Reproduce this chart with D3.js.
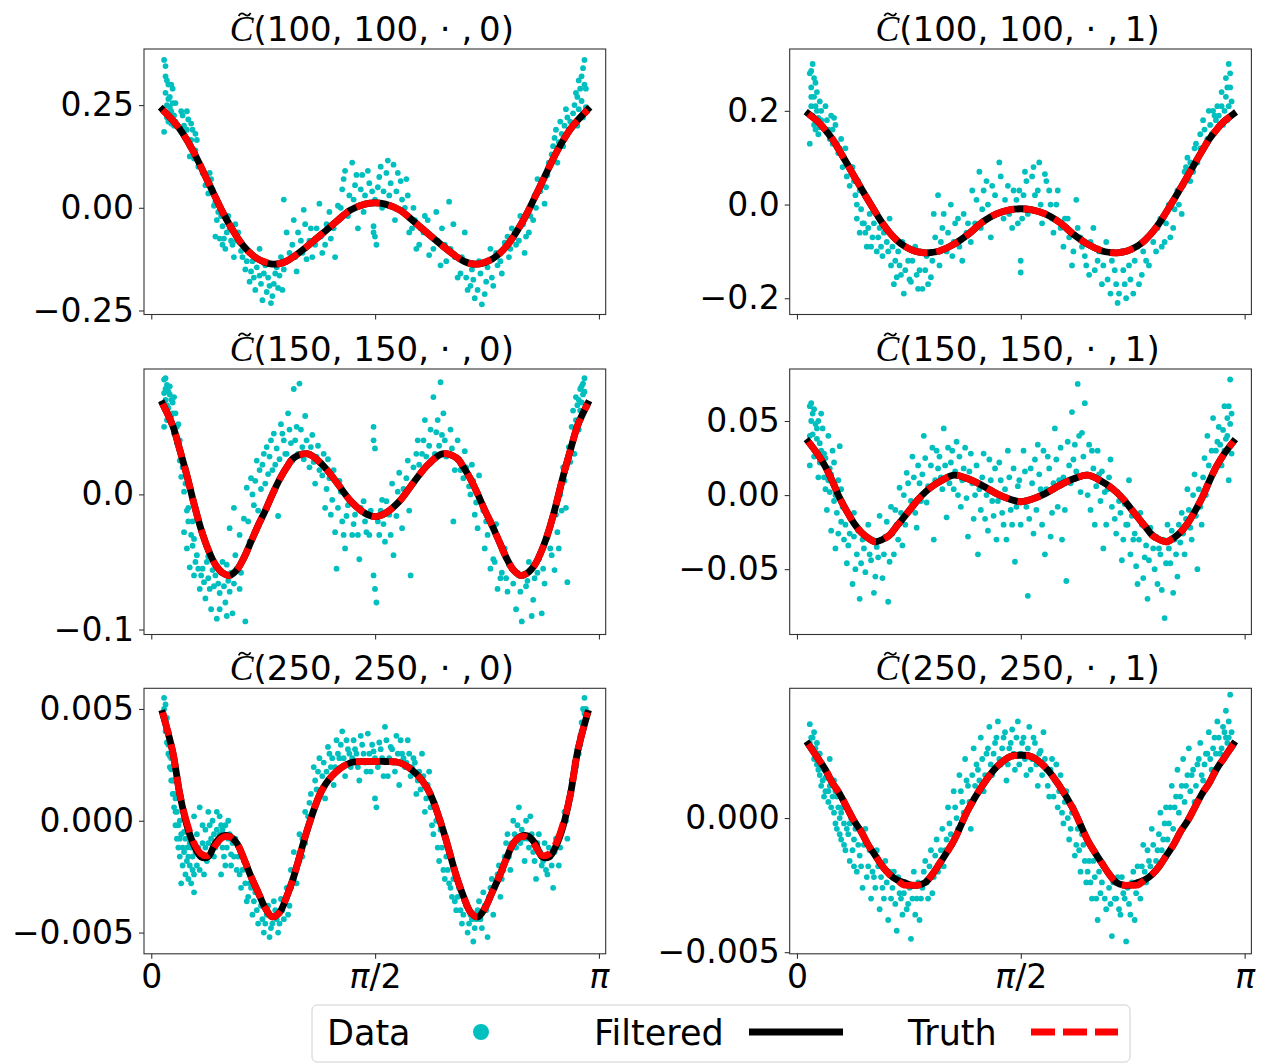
<!DOCTYPE html>
<html>
<head>
<meta charset="utf-8">
<script src="https://cdn.jsdelivr.net/npm/d3@7"></script>
<style>
  body { margin: 0; background: #fff; }
  svg { display: block; font-family: "DejaVu Sans", sans-serif; }
</style>
</head>
<body>
<div id="chart"></div>
<script>
/**
 * DATA
 * */
// x positions where the filtered / true curves are sampled
const xGrid = [0.08, 0.15, 0.2, 0.25, 0.3, 0.35, 0.4, 0.45, 0.5, 0.55, 0.6, 0.65, 0.7, 0.75, 0.8, 0.85, 0.9, 0.95, 1.0, 1.1, 1.2, 1.3, 1.4, 1.5, 1.571,
  1.642, 1.742, 1.842, 1.942, 2.042, 2.142, 2.192, 2.242, 2.292, 2.342, 2.392, 2.442, 2.492, 2.542, 2.592, 2.642, 2.692, 2.742, 2.792, 2.842, 2.892, 2.942, 2.992, 3.062];

const truth100_0 = [0.238, 0.213, 0.192, 0.165, 0.134, 0.099, 0.062, 0.026, -0.010, -0.042, -0.070, -0.094, -0.112, -0.125, -0.132, -0.137, -0.136, -0.130, -0.119, -0.092, -0.063, -0.033, -0.005, 0.009, 0.012,
  0.009, -0.005, -0.033, -0.063, -0.092, -0.119, -0.130, -0.136, -0.137, -0.132, -0.125, -0.112, -0.094, -0.070, -0.042, -0.010, 0.026, 0.062, 0.099, 0.134, 0.165, 0.192, 0.213, 0.238];
const filtered100_0 = [0.239, 0.213, 0.192, 0.165, 0.134, 0.099, 0.062, 0.026, -0.010, -0.042, -0.070, -0.094, -0.112, -0.125, -0.133, -0.137, -0.136, -0.130, -0.119, -0.092, -0.063, -0.033, -0.005, 0.009, 0.012,
  0.009, -0.005, -0.033, -0.063, -0.092, -0.119, -0.130, -0.136, -0.137, -0.133, -0.125, -0.112, -0.094, -0.070, -0.042, -0.010, 0.026, 0.062, 0.099, 0.134, 0.165, 0.192, 0.213, 0.239];

const truth100_1 = [0.193, 0.176, 0.159, 0.139, 0.114, 0.088, 0.061, 0.035, 0.009, -0.016, -0.040, -0.060, -0.076, -0.088, -0.096, -0.101, -0.103, -0.102, -0.099, -0.085, -0.064, -0.038, -0.020, -0.011, -0.009,
  -0.011, -0.020, -0.038, -0.064, -0.085, -0.099, -0.102, -0.103, -0.101, -0.096, -0.088, -0.076, -0.060, -0.040, -0.016, 0.009, 0.035, 0.061, 0.088, 0.114, 0.139, 0.159, 0.176, 0.193];
const filtered100_1 = [0.194, 0.176, 0.159, 0.139, 0.114, 0.088, 0.061, 0.035, 0.009, -0.016, -0.040, -0.060, -0.076, -0.088, -0.096, -0.101, -0.103, -0.102, -0.099, -0.085, -0.064, -0.038, -0.020, -0.011, -0.009,
  -0.011, -0.020, -0.038, -0.064, -0.085, -0.099, -0.102, -0.103, -0.101, -0.096, -0.088, -0.076, -0.060, -0.040, -0.016, 0.009, 0.035, 0.061, 0.088, 0.114, 0.139, 0.159, 0.176, 0.193];

const truth150_0 = [0.067, 0.051, 0.033, 0.014, -0.007, -0.026, -0.041, -0.052, -0.058, -0.060, -0.056, -0.047, -0.035, -0.023, -0.012, 0.000, 0.011, 0.020, 0.027, 0.030, 0.022, 0.009, -0.005, -0.014, -0.0165,
  -0.014, -0.005, 0.009, 0.022, 0.030, 0.027, 0.020, 0.011, 0.000, -0.012, -0.023, -0.035, -0.047, -0.056, -0.060, -0.058, -0.052, -0.041, -0.026, -0.007, 0.014, 0.033, 0.051, 0.067];
const filtered150_0 = [0.067, 0.051, 0.033, 0.014, -0.007, -0.026, -0.041, -0.052, -0.058, -0.060, -0.056, -0.047, -0.035, -0.023, -0.012, 0.000, 0.011, 0.020, 0.027, 0.030, 0.022, 0.009, -0.005, -0.014, -0.0165,
  -0.014, -0.005, 0.009, 0.022, 0.030, 0.027, 0.020, 0.011, 0.000, -0.012, -0.023, -0.035, -0.047, -0.056, -0.060, -0.058, -0.052, -0.041, -0.026, -0.007, 0.014, 0.033, 0.051, 0.067];

const truth150_1 = [0.036, 0.027, 0.019, 0.009, -0.002, -0.011, -0.019, -0.025, -0.029, -0.0315, -0.030, -0.027, -0.021, -0.015, -0.009, -0.003, 0.002, 0.006, 0.009, 0.0135, 0.011, 0.0065, 0.001, -0.003, -0.0045,
  -0.003, 0.001, 0.0065, 0.011, 0.0135, 0.009, 0.006, 0.002, -0.003, -0.009, -0.015, -0.021, -0.027, -0.030, -0.0315, -0.029, -0.025, -0.019, -0.011, -0.002, 0.009, 0.019, 0.027, 0.036];
const filtered150_1 = [0.036, 0.027, 0.019, 0.009, -0.002, -0.011, -0.019, -0.025, -0.029, -0.0315, -0.030, -0.027, -0.021, -0.015, -0.009, -0.003, 0.002, 0.006, 0.009, 0.0135, 0.011, 0.0065, 0.001, -0.003, -0.0045,
  -0.003, 0.001, 0.0065, 0.011, 0.0135, 0.009, 0.006, 0.002, -0.003, -0.009, -0.015, -0.021, -0.027, -0.030, -0.0315, -0.029, -0.025, -0.019, -0.011, -0.002, 0.009, 0.019, 0.027, 0.036];

const truth250_0 = [0.00485, 0.0031, 0.0012, -0.0001, -0.0010, -0.00148, -0.00155, -0.0011, -0.00075, -0.00072, -0.0010, -0.0017, -0.0025, -0.0032, -0.0039, -0.0043, -0.0041, -0.0034, -0.0025, -0.0003, 0.0014, 0.0022, 0.0026, 0.00265, 0.00265,
  0.00265, 0.0026, 0.0022, 0.0014, -0.0003, -0.0025, -0.0034, -0.0041, -0.0043, -0.0039, -0.0032, -0.0025, -0.0017, -0.0010, -0.00072, -0.00075, -0.0011, -0.00155, -0.00148, -0.0010, -0.0001, 0.0012, 0.0031, 0.00485];
const filtered250_0 = [0.00480, 0.0031, 0.0012, -0.0002, -0.0011, -0.00162, -0.00160, -0.0010, -0.00068, -0.00070, -0.0010, -0.0017, -0.0025, -0.0032, -0.0039, -0.0043, -0.0041, -0.0034, -0.0025, -0.0003, 0.0014, 0.0022, 0.0026, 0.00265, 0.00265,
  0.00265, 0.0026, 0.0022, 0.0014, -0.0003, -0.0025, -0.0034, -0.0041, -0.0043, -0.0039, -0.0032, -0.0025, -0.0017, -0.0010, -0.00070, -0.00068, -0.0010, -0.00160, -0.00162, -0.0011, -0.0002, 0.0012, 0.0031, 0.00480];

const truth250_1 = [0.00275, 0.0022, 0.0018, 0.0013, 0.0009, 0.0004, -0.0001, -0.0005, -0.0010, -0.0014, -0.0018, -0.0021, -0.0023, -0.0025, -0.0025, -0.0025, -0.0024, -0.0021, -0.0017, -0.00085, 0.0003, 0.0012, 0.0019, 0.0023, 0.00232,
  0.0023, 0.0019, 0.0012, 0.0003, -0.00085, -0.0017, -0.0021, -0.0024, -0.0025, -0.0025, -0.0025, -0.0023, -0.0021, -0.0018, -0.0014, -0.0010, -0.0005, -0.0001, 0.0004, 0.0009, 0.0013, 0.0018, 0.0022, 0.00275];
const filtered250_1 = [0.00275, 0.0022, 0.0018, 0.0013, 0.0009, 0.0004, -0.0001, -0.0005, -0.0010, -0.0014, -0.0018, -0.0021, -0.0023, -0.0024, -0.0025, -0.0025, -0.0024, -0.0021, -0.0017, -0.00085, 0.0003, 0.0012, 0.0019, 0.0023, 0.00234,
  0.0023, 0.0019, 0.0012, 0.0003, -0.00085, -0.0017, -0.0021, -0.0024, -0.0025, -0.0025, -0.0024, -0.0023, -0.0021, -0.0018, -0.0014, -0.0010, -0.0005, -0.0001, 0.0004, 0.0009, 0.0013, 0.0018, 0.0022, 0.00275];

// noisy samples, [x, value]
const data100_0 = [[0.09,0.36],[0.10,0.32],[0.10,0.28],[0.11,0.25],[0.12,0.30],[0.12,0.21],[0.13,0.27],[0.14,0.235],[0.15,0.29],[0.16,0.20],[0.09,0.185],[0.17,0.255],
  [0.21,0.235],[0.23,0.20],[0.24,0.17],[0.26,0.215],[0.27,0.15],[0.29,0.19],[0.30,0.12],[0.32,0.165],[0.33,0.10],
  [0.36,0.085],[0.38,0.055],[0.40,0.035],[0.42,0.07],[0.44,0.005],
  [0.46,-0.03],[0.48,-0.075],[0.50,-0.045],[0.52,-0.10],[0.54,-0.02],[0.56,-0.08],[0.58,-0.12],[0.61,-0.06],[0.63,-0.105],
  [0.66,-0.15],[0.69,-0.18],[0.71,-0.13],[0.73,-0.20],[0.76,-0.165],[0.78,-0.225],[0.80,-0.14],[0.83,-0.19],[0.85,-0.215],[0.87,-0.16],[0.89,-0.195],[0.91,-0.12],[0.76,-0.10],[0.84,-0.232],
  [0.93,0.02],[0.95,-0.06],[0.97,-0.11],[1.00,-0.03],[1.02,-0.155],[1.05,-0.08],[1.07,-0.005],[1.09,-0.125],[1.12,-0.05],
  [1.15,-0.09],[1.18,0.01],[1.20,-0.11],[1.23,-0.04],[1.26,-0.075],[1.29,-0.12],[1.31,0.005],
  [1.34,0.045],[1.36,0.09],[1.38,-0.02],[1.41,0.11],[1.43,0.055],[1.45,-0.05],[1.48,0.08],[1.50,0.03],[1.53,0.06],
  [1.56,-0.045],[1.57,-0.07],[1.58,-0.09],[1.57,0.02],
  [1.61,0.10],[1.63,0.04],[1.66,0.115],[1.68,0.06],[1.71,-0.03],[1.73,0.085],[1.76,0.02],[1.79,0.07],[1.81,-0.06],
  [1.84,0.0],[1.86,-0.10],[1.89,-0.05],[1.92,-0.02],[1.95,-0.115],[1.97,-0.07],
  [2.00,-0.01],[2.03,-0.14],[2.06,-0.09],[2.09,0.015],[2.12,-0.04],[2.15,-0.17],[2.18,-0.12],[2.20,-0.06],
  [2.22,-0.20],[2.25,-0.15],[2.27,-0.22],[2.30,-0.13],[2.32,-0.235],[2.35,-0.18],[2.38,-0.10],[2.40,-0.19],[2.43,-0.14],[2.46,-0.16],[2.48,-0.085],
  [2.51,-0.12],[2.53,-0.05],[2.56,-0.09],[2.59,-0.02],[2.62,-0.11],[2.65,-0.06],[2.68,-0.03],
  [2.71,0.07],[2.73,0.04],[2.76,0.01],[2.78,0.08],
  [2.81,0.13],[2.83,0.17],[2.85,0.11],[2.87,0.21],[2.89,0.15],[2.91,0.24],[2.93,0.19],
  [2.96,0.23],[2.98,0.28],[2.99,0.20],[3.00,0.31],[3.02,0.26],[3.03,0.34],[3.04,0.36],[3.03,0.22],[3.05,0.29],
  [0.10,0.345],[0.11,0.31],[0.11,0.22],[0.12,0.265],[0.13,0.245],[0.14,0.30],[0.14,0.205],[0.15,0.255],[0.16,0.225],[0.17,0.21],
  [0.22,0.225],[0.22,0.185],[0.25,0.235],[0.25,0.19],[0.28,0.205],[0.28,0.165],[0.31,0.18],[0.31,0.14],[0.27,0.125],
  [0.41,0.085],[0.43,0.045],[0.45,0.015],[0.47,-0.01],[0.49,-0.02],[0.51,-0.075],[0.53,-0.06],[0.55,-0.05],[0.57,-0.09],[0.59,-0.04],[0.60,-0.08],[0.62,-0.085],[0.64,-0.12],[0.45,-0.07],[0.50,-0.09],
  [0.67,-0.13],[0.70,-0.155],[0.72,-0.17],[0.74,-0.145],[0.77,-0.185],[0.79,-0.16],[0.81,-0.205],[0.82,-0.17],[0.86,-0.185],[0.88,-0.145],[0.90,-0.165],[0.92,-0.20],[0.93,-0.15],
  [0.99,-0.09],[1.01,-0.12],[1.03,-0.06],[1.06,-0.11],[1.08,-0.04],[1.11,-0.08],[1.13,-0.12],[1.16,-0.05],[1.19,-0.07],[1.22,-0.09],[1.25,-0.01],[1.28,-0.05],
  [1.33,0.0],[1.35,0.07],[1.39,0.03],[1.42,0.02],[1.44,0.08],[1.47,0.045],[1.49,-0.01],[1.52,0.09],[1.55,0.04],[1.54,0.01],[1.56,-0.06],
  [1.59,0.05],[1.60,0.075],[1.62,0.0],[1.65,0.085],[1.67,0.03],[1.70,0.105],[1.72,0.04],[1.75,0.065],[1.78,0.0],[1.80,0.03],
  [1.83,-0.05],[1.85,-0.03],[1.88,-0.09],[1.91,-0.06],[1.94,-0.03],[1.98,-0.10],[2.01,-0.08],[2.04,-0.05],[2.07,-0.13],[2.10,-0.10],
  [2.13,-0.12],[2.17,-0.16],[2.21,-0.17],[2.24,-0.19],[2.26,-0.175],[2.29,-0.20],[2.31,-0.16],[2.34,-0.21],[2.36,-0.145],[2.39,-0.17],[2.42,-0.11],[2.45,-0.13],
  [2.50,-0.07],[2.52,-0.10],[2.55,-0.06],[2.58,-0.08],[2.61,-0.04],[2.63,-0.07],[2.66,-0.02],[2.69,0.03],[2.70,0.0],
  [2.74,0.06],[2.77,0.05],[2.79,0.11],[2.82,0.15],[2.84,0.19],[2.86,0.16],[2.88,0.18],[2.90,0.20],[2.92,0.22],[2.94,0.21],
  [2.97,0.25],[2.99,0.27],[3.00,0.24],[3.01,0.29],[3.02,0.32],[3.04,0.30],[3.05,0.245]];

const data100_1 = [[0.09,0.28],[0.10,0.25],[0.10,0.21],[0.11,0.30],[0.12,0.23],[0.12,0.17],[0.13,0.26],[0.14,0.20],[0.15,0.15],[0.16,0.22],[0.09,0.13],[0.17,0.18],
  [0.20,0.21],[0.22,0.16],[0.24,0.19],[0.25,0.13],[0.27,0.17],[0.29,0.11],[0.31,0.14],[0.33,0.10],[0.35,0.06],
  [0.37,0.04],[0.39,0.08],[0.41,0.02],[0.43,0.05],[0.45,-0.01],
  [0.42,-0.03],[0.44,-0.06],[0.47,-0.04],[0.49,-0.09],[0.51,-0.02],[0.53,-0.07],[0.56,-0.10],[0.58,-0.05],[0.60,-0.11],[0.63,-0.08],[0.65,-0.03],
  [0.66,-0.13],[0.68,-0.17],[0.71,-0.10],[0.73,-0.15],[0.75,-0.19],[0.78,-0.12],[0.80,-0.165],[0.83,-0.09],[0.86,-0.14],[0.88,-0.18],[0.91,-0.11],[0.94,-0.155],[0.97,-0.07],[1.00,-0.13],
  [0.96,-0.02],[0.99,0.02],[1.02,-0.05],[1.05,-0.10],[1.08,0.0],[1.10,-0.08],[1.13,-0.03],[1.16,-0.12],[1.19,-0.06],
  [1.23,0.03],[1.25,-0.04],[1.28,0.07],[1.30,-0.01],[1.33,0.05],[1.36,-0.07],[1.39,0.02],[1.42,0.09],[1.45,-0.03],[1.48,0.04],[1.51,-0.05],[1.54,0.01],
  [1.57,-0.12],[1.57,-0.145],[1.58,-0.03],[1.56,0.03],
  [1.60,0.07],[1.62,-0.02],[1.65,0.06],[1.67,0.02],[1.70,0.09],[1.72,-0.04],[1.75,0.05],[1.78,0.0],[1.80,-0.06],[1.83,0.03],
  [1.87,-0.09],[1.90,-0.03],[1.93,-0.13],[1.96,0.01],[1.99,-0.07],[2.02,-0.11],[2.05,-0.15],[2.08,-0.05],[2.11,-0.12],[2.14,-0.17],[2.17,-0.08],
  [2.20,-0.19],[2.23,-0.14],[2.25,-0.21],[2.28,-0.10],[2.30,-0.17],[2.33,-0.13],[2.36,-0.19],[2.39,-0.09],[2.42,-0.15],[2.45,-0.12],
  [2.49,-0.06],[2.52,-0.10],[2.55,-0.03],[2.58,-0.08],[2.61,0.0],[2.64,-0.05],[2.67,0.03],[2.70,-0.02],
  [2.72,0.07],[2.74,0.10],[2.76,0.05],[2.79,0.12],[2.81,0.09],
  [2.83,0.15],[2.85,0.18],[2.87,0.13],[2.89,0.20],[2.91,0.15],[2.93,0.19],[2.95,0.21],
  [2.97,0.17],[2.98,0.24],[3.00,0.20],[3.01,0.27],[3.02,0.18],[3.03,0.30],[3.04,0.25],[3.05,0.22],
  [0.10,0.23],[0.10,0.285],[0.11,0.19],[0.12,0.27],[0.13,0.21],[0.13,0.16],[0.14,0.24],[0.15,0.185],[0.16,0.165],[0.17,0.20],
  [0.21,0.18],[0.23,0.14],[0.25,0.16],[0.26,0.185],[0.28,0.13],[0.30,0.12],[0.32,0.08],[0.34,0.12],
  [0.40,0.05],[0.42,0.0],[0.44,0.03],[0.46,-0.04],[0.48,-0.06],[0.50,-0.05],[0.52,-0.09],[0.54,-0.04],[0.57,-0.07],[0.59,-0.09],[0.61,-0.06],[0.64,-0.10],
  [0.67,-0.09],[0.69,-0.12],[0.70,-0.155],[0.72,-0.13],[0.74,-0.08],[0.76,-0.14],[0.79,-0.16],[0.81,-0.12],[0.84,-0.15],[0.85,-0.18],[0.87,-0.10],[0.90,-0.14],[0.92,-0.17],[0.95,-0.12],[0.98,-0.10],
  [1.01,-0.08],[1.03,-0.02],[1.06,-0.06],[1.09,-0.11],[1.11,-0.04],[1.14,-0.09],[1.17,-0.02],[1.20,-0.04],[1.22,-0.08],[1.26,0.01],[1.29,-0.05],[1.31,0.03],
  [1.34,0.0],[1.37,0.04],[1.40,-0.02],[1.43,0.06],[1.46,0.01],[1.49,-0.02],[1.52,0.03],[1.55,-0.04],
  [1.59,0.02],[1.61,0.05],[1.64,-0.01],[1.66,0.08],[1.69,0.03],[1.71,0.0],[1.74,0.065],[1.77,0.03],[1.79,-0.03],[1.82,0.0],[1.85,-0.05],
  [1.88,-0.03],[1.91,-0.07],[1.94,-0.10],[1.97,-0.05],[2.00,-0.09],[2.03,-0.13],[2.06,-0.08],[2.09,-0.14],[2.12,-0.10],[2.15,-0.13],[2.18,-0.16],
  [2.21,-0.12],[2.24,-0.17],[2.26,-0.19],[2.29,-0.14],[2.31,-0.20],[2.34,-0.16],[2.37,-0.12],[2.40,-0.17],[2.43,-0.10],[2.47,-0.13],
  [2.50,-0.08],[2.53,-0.05],[2.56,-0.09],[2.59,-0.04],[2.62,-0.07],[2.65,-0.01],[2.68,0.0],[2.71,0.04],
  [2.73,0.08],[2.76,0.09],[2.78,0.07],[2.80,0.13],[2.83,0.12],[2.86,0.16],[2.88,0.14],[2.90,0.17],[2.92,0.20],[2.94,0.18],
  [2.96,0.19],[2.98,0.21],[2.99,0.17],[3.01,0.23],[3.02,0.25],[3.03,0.21],[3.04,0.28]];

const data150_0 = [[0.09,0.085],[0.10,0.078],[0.10,0.070],[0.11,0.081],[0.12,0.064],[0.13,0.074],[0.14,0.058],[0.15,0.068],[0.09,0.050],[0.16,0.045],[0.17,0.060],[0.18,0.038],[0.19,0.052],
  [0.20,0.025],[0.21,0.013],[0.23,0.002],[0.24,0.020],[0.26,-0.01],[0.27,0.006],[0.29,-0.02],[0.30,-0.033],[0.23,-0.028],[0.25,-0.040],[0.27,-0.054],[0.30,-0.060],
  [0.32,-0.045],[0.34,-0.070],[0.36,-0.055],[0.38,-0.077],[0.40,-0.062],[0.42,-0.085],[0.44,-0.068],[0.46,-0.092],[0.48,-0.073],[0.50,-0.050],[0.52,-0.080],[0.54,-0.064],[0.57,-0.088],[0.59,-0.045],[0.62,-0.070],[0.66,-0.094],[0.40,-0.046],
  [0.55,-0.025],[0.58,-0.010],[0.62,-0.030],[0.65,-0.018],[0.67,0.005],
  [0.70,0.012],[0.72,-0.008],[0.74,0.025],[0.77,0.004],[0.79,0.030],[0.82,0.015],[0.84,0.040],[0.87,0.022],[0.89,-0.016],[0.92,0.045],[0.94,0.030],
  [0.96,0.060],[0.98,0.038],[1.00,0.078],[1.02,0.050],[1.04,0.082],[1.06,0.035],[1.08,0.058],[1.11,0.020],[1.13,0.044],[1.15,0.008],[1.17,0.036],
  [1.20,0.014],[1.22,-0.010],[1.24,0.026],[1.27,-0.004],[1.29,-0.028],[1.32,0.010],[1.34,-0.020],[1.36,-0.040],[1.38,-0.008],[1.41,-0.030],[1.43,-0.015],[1.46,-0.048],[1.30,-0.055],
  [1.49,-0.005],[1.51,-0.028],[1.54,-0.012],[1.56,0.050],[1.56,0.040],[1.57,0.034],[1.56,-0.060],[1.58,-0.080],[1.57,-0.070],
  [1.59,-0.020],[1.62,-0.004],[1.64,-0.035],[1.67,-0.015],[1.70,-0.045],[1.73,0.002],[1.76,-0.025],[1.79,0.012],[1.82,-0.060],[1.84,0.020],[1.87,0.040],
  [1.90,0.030],[1.92,0.055],[1.95,0.036],[1.98,0.072],[2.00,0.046],[2.03,0.083],[2.05,0.060],[2.07,0.028],[2.10,0.048],[2.12,-0.020],
  [2.15,0.040],[2.17,0.018],[2.20,0.032],[2.23,0.006],[2.25,0.022],[2.28,-0.006],[2.30,0.014],[2.33,-0.012],[2.36,-0.030],
  [2.40,-0.048],[2.42,-0.022],[2.45,-0.062],[2.48,-0.040],[2.50,-0.072],[2.53,-0.055],[2.56,-0.085],[2.58,-0.060],[2.60,-0.094],[2.63,-0.068],[2.65,-0.050],[2.68,-0.078],[2.71,-0.058],[2.74,-0.088],[2.76,-0.066],
  [2.80,-0.040],[2.83,-0.056],[2.85,-0.028],[2.88,-0.012],[2.90,0.010],[2.92,-0.065],[2.94,0.024],
  [2.96,0.040],[2.98,0.055],[3.00,0.070],[3.01,0.062],[3.02,0.080],[3.03,0.074],[3.04,0.086],[3.05,0.066],[2.97,0.030],[3.00,0.048],
  [0.09,0.075],[0.10,0.086],[0.11,0.066],[0.12,0.076],[0.13,0.080],[0.14,0.070],[0.15,0.060],[0.16,0.072],[0.11,0.055],[0.18,0.050],
  [0.20,0.040],[0.21,0.030],[0.22,0.020],[0.24,0.008],[0.25,-0.012],[0.26,-0.020],[0.28,-0.030],[0.29,-0.038],[0.31,-0.050],
  [0.33,-0.055],[0.35,-0.060],[0.37,-0.065],[0.39,-0.050],[0.41,-0.070],[0.43,-0.056],[0.45,-0.060],[0.47,-0.066],[0.49,-0.058],[0.51,-0.068],[0.53,-0.052],[0.55,-0.072],[0.56,-0.058],[0.58,-0.066],[0.60,-0.055],[0.63,-0.058],[0.48,-0.085],[0.53,-0.090],
  [0.68,-0.020],[0.69,-0.035],[0.71,0.000],[0.73,0.010],[0.75,-0.012],[0.76,0.018],[0.78,0.022],[0.80,0.008],[0.81,0.035],[0.83,0.028],[0.85,0.018],[0.86,0.045],[0.88,0.034],[0.90,0.026],[0.91,0.052],[0.93,0.040],
  [0.95,0.030],[0.97,0.048],[0.99,0.025],[1.01,0.040],[1.03,0.030],[1.05,0.048],[1.07,0.026],[1.09,0.040],[1.10,0.030],[1.12,0.035],[1.14,0.024],[1.16,0.028],[1.18,0.018],
  [1.21,0.030],[1.23,0.004],[1.25,0.012],[1.26,-0.015],[1.28,0.018],[1.31,-0.010],[1.33,0.002],[1.35,-0.030],[1.37,-0.016],[1.40,-0.006],[1.42,-0.022],[1.45,-0.030],[1.47,-0.010],[1.50,-0.020],[1.53,-0.030],
  [1.60,-0.030],[1.61,-0.012],[1.63,-0.022],[1.65,-0.005],[1.68,-0.030],[1.69,0.008],[1.72,-0.016],[1.74,0.016],[1.77,0.004],[1.80,0.025],[1.81,-0.012],[1.83,0.008],[1.86,0.030],
  [1.88,0.022],[1.91,0.040],[1.93,0.028],[1.96,0.048],[1.99,0.030],[2.01,0.055],[2.02,0.036],[2.04,0.044],[2.06,0.040],[2.09,0.030],[2.11,0.034],[2.13,0.018],
  [2.16,0.026],[2.19,0.012],[2.21,0.020],[2.24,0.000],[2.26,0.010],[2.27,-0.015],[2.29,-0.025],[2.31,-0.005],[2.34,-0.040],[2.35,-0.020],
  [2.38,-0.055],[2.41,-0.050],[2.43,-0.070],[2.46,-0.058],[2.49,-0.062],[2.51,-0.052],[2.54,-0.066],[2.57,-0.058],[2.59,-0.072],[2.61,-0.060],[2.64,-0.064],[2.66,-0.056],[2.69,-0.062],[2.72,-0.048],[2.75,-0.055],[2.67,-0.090],
  [2.78,-0.032],[2.81,-0.045],[2.84,-0.015],[2.86,-0.040],[2.87,0.000],[2.89,0.020],[2.91,-0.010],[2.93,0.035],[2.95,0.050],
  [2.96,0.062],[2.98,0.072],[2.99,0.066],[3.01,0.078],[3.02,0.068],[3.03,0.082],[3.04,0.076]];

const data150_1 = [[0.09,0.060],[0.10,0.050],[0.11,0.041],[0.12,0.058],[0.13,0.030],[0.14,0.045],[0.09,0.020],[0.15,0.012],[0.16,0.035],[0.17,0.055],
  [0.19,0.028],[0.20,0.004],[0.21,-0.010],[0.22,0.040],[0.23,0.018],[0.24,-0.024],[0.25,0.030],[0.26,-0.004],[0.27,-0.036],[0.29,0.010],[0.30,0.033],
  [0.31,-0.018],[0.33,-0.030],[0.35,-0.046],[0.37,-0.026],[0.39,-0.060],[0.40,-0.012],[0.42,-0.040],[0.44,-0.070],[0.46,-0.030],[0.48,-0.052],[0.50,-0.020],[0.52,-0.044],[0.54,-0.066],[0.56,-0.035],[0.58,-0.014],[0.60,-0.056],[0.62,-0.028],[0.64,-0.072],[0.66,-0.008],[0.68,-0.040],
  [0.70,-0.020],[0.72,0.005],[0.74,-0.034],[0.77,0.015],[0.79,-0.010],[0.81,0.026],[0.84,-0.022],[0.86,0.008],[0.89,0.040],[0.91,-0.005],[0.94,0.020],[0.96,-0.030],[0.98,0.030],
  [1.01,0.012],[1.03,0.045],[1.05,-0.015],[1.08,0.022],[1.10,0.004],[1.12,0.036],[1.15,-0.008],[1.17,0.018],[1.20,-0.028],[1.22,0.028],[1.25,0.000],[1.27,-0.040],
  [1.30,0.012],[1.32,-0.016],[1.35,0.024],[1.37,-0.004],[1.40,-0.030],[1.43,0.010],[1.45,-0.020],[1.48,0.030],[1.50,-0.010],[1.53,-0.045],[1.55,0.006],
  [1.57,-0.020],[1.59,0.030],[1.61,-0.008],[1.62,-0.068],
  [1.64,0.018],[1.66,-0.026],[1.69,0.034],[1.71,0.004],[1.74,-0.040],[1.76,0.026],[1.79,-0.012],[1.81,0.045],[1.84,0.010],[1.86,-0.030],[1.89,-0.058],
  [1.91,0.020],[1.93,0.056],[1.95,0.034],[1.97,0.075],[2.00,0.042],[2.02,0.062],[2.04,0.000],[2.07,0.030],[2.09,-0.020],[2.12,0.014],[2.15,-0.036],[2.18,0.004],[2.20,0.024],[2.23,-0.016],
  [2.26,-0.004],[2.28,-0.044],[2.31,-0.020],[2.33,0.010],[2.36,-0.030],[2.39,-0.060],[2.41,-0.012],[2.44,-0.042],[2.46,-0.070],[2.49,-0.026],[2.51,-0.050],[2.54,-0.036],[2.56,-0.064],[2.58,-0.083],[2.60,-0.020],[2.62,-0.046],[2.65,-0.030],[2.67,-0.055],[2.70,-0.012],[2.72,-0.040],
  [2.74,0.004],[2.76,-0.022],[2.79,0.014],[2.81,-0.050],[2.83,-0.008],[2.86,0.025],
  [2.88,0.040],[2.90,0.010],[2.92,0.052],[2.94,0.030],[2.96,0.046],[2.98,0.020],[3.00,0.060],[3.01,0.038],[3.02,0.052],[3.04,0.078],[3.05,0.028],[3.03,0.010],
  [0.09,0.040],[0.10,0.034],[0.10,0.062],[0.11,0.055],[0.12,0.026],[0.13,0.048],[0.14,0.038],[0.15,0.050],[0.16,0.022],[0.17,0.030],[0.18,0.045],
  [0.19,0.012],[0.20,0.025],[0.22,0.010],[0.23,0.002],[0.24,0.014],[0.26,0.022],[0.27,0.000],[0.28,-0.012],[0.29,-0.026],[0.31,0.004],[0.32,-0.008],
  [0.34,-0.020],[0.36,-0.034],[0.38,-0.016],[0.40,-0.028],[0.41,-0.050],[0.43,-0.024],[0.45,-0.046],[0.47,-0.036],[0.49,-0.028],[0.51,-0.040],[0.53,-0.030],[0.55,-0.055],[0.57,-0.042],[0.59,-0.030],[0.61,-0.040],[0.63,-0.018],[0.65,-0.045],[0.67,-0.026],[0.69,-0.010],
  [0.71,-0.030],[0.73,-0.012],[0.75,0.000],[0.76,-0.020],[0.78,0.008],[0.80,-0.004],[0.82,0.012],[0.83,-0.012],[0.85,0.020],[0.87,-0.004],[0.88,0.014],[0.90,0.025],[0.92,0.006],[0.95,0.032],[0.97,0.010],[0.99,0.018],
  [1.00,0.026],[1.02,0.004],[1.04,0.020],[1.06,0.032],[1.07,0.008],[1.09,0.030],[1.11,0.016],[1.13,0.000],[1.14,0.026],[1.16,0.010],[1.18,0.032],[1.19,-0.002],[1.21,0.016],[1.23,0.008],[1.24,-0.016],[1.26,0.020],[1.28,0.004],
  [1.29,-0.010],[1.31,0.028],[1.33,0.000],[1.34,-0.024],[1.36,0.010],[1.38,-0.014],[1.39,0.018],[1.41,-0.004],[1.42,0.022],[1.44,-0.012],[1.46,0.004],[1.47,-0.030],[1.49,0.012],[1.51,-0.020],[1.52,0.018],[1.54,-0.008],[1.56,0.010],
  [1.58,-0.004],[1.60,0.016],[1.63,-0.016],[1.65,0.008],[1.67,0.024],[1.68,-0.010],[1.70,0.014],[1.72,-0.020],[1.73,0.030],[1.75,0.004],[1.77,0.018],[1.78,-0.028],[1.80,0.008],[1.82,0.024],[1.83,-0.008],[1.85,0.032],[1.87,0.012],[1.88,-0.010],
  [1.90,0.036],[1.92,0.008],[1.94,0.024],[1.96,0.016],[1.98,0.040],[1.99,0.002],[2.01,0.026],[2.03,0.014],[2.05,0.034],[2.06,-0.010],[2.08,0.018],[2.10,0.006],[2.11,0.030],[2.13,-0.004],[2.14,0.016],[2.16,0.002],[2.17,-0.020],[2.19,0.012],[2.21,-0.008],[2.22,0.004],
  [2.24,-0.026],[2.25,0.002],[2.27,-0.012],[2.29,-0.030],[2.30,-0.006],[2.32,-0.020],[2.34,-0.040],[2.35,-0.014],[2.37,-0.026],[2.38,-0.048],[2.40,-0.030],[2.42,-0.020],[2.43,-0.056],[2.45,-0.034],[2.47,-0.044],[2.48,-0.022],[2.50,-0.036],[2.52,-0.028],[2.53,-0.060],[2.55,-0.040],[2.57,-0.030],[2.59,-0.046],[2.61,-0.036],[2.63,-0.024],[2.64,-0.066],[2.66,-0.040],[2.68,-0.020],[2.69,-0.032],[2.71,-0.026],[2.73,-0.016],
  [2.75,-0.010],[2.77,-0.030],[2.78,0.000],[2.80,-0.014],[2.82,0.004],[2.84,-0.020],[2.85,0.012],[2.87,0.000],[2.89,0.020],[2.91,0.030],[2.93,0.016],[2.95,0.036],[2.97,0.034],[2.99,0.044],[3.00,0.030],[3.02,0.040],[3.03,0.060],[3.04,0.048],[3.05,0.055]];

const data250_0 = [[0.09,0.0055],[0.09,0.0050],[0.10,0.0045],[0.11,0.0040],[0.12,0.0034],[0.13,0.0029],[0.14,0.0023],[0.15,0.0018],[0.16,0.0012],[0.17,0.0004],
  [0.19,-0.0002],[0.20,-0.0008],[0.22,-0.0012],[0.23,-0.0005],[0.25,-0.0018],[0.26,-0.0026],[0.27,-0.0010],[0.29,-0.0022],[0.30,-0.0032],[0.21,-0.0028],
  [0.30,0.0002],[0.32,-0.0006],[0.34,0.0006],[0.36,-0.0002],[0.38,-0.0012],[0.40,0.0004],[0.42,-0.0008],[0.44,-0.0016],[0.46,-0.0004],[0.48,0.0002],[0.50,-0.0012],[0.52,-0.0020],[0.54,-0.0008],[0.56,-0.0015],[0.49,-0.0024],
  [0.60,-0.0022],[0.63,-0.0030],[0.65,-0.0018],[0.67,-0.0036],[0.69,-0.0028],[0.71,-0.0042],[0.73,-0.0032],[0.75,-0.0046],[0.77,-0.0038],[0.79,-0.0050],[0.81,-0.0042],[0.83,-0.0052],[0.85,-0.0046],[0.87,-0.0040],[0.89,-0.0050],[0.91,-0.0035],[0.93,-0.0044],[0.95,-0.0030],[0.97,-0.0038],
  [0.98,-0.0022],[1.00,-0.0014],[1.02,-0.0028],[1.04,-0.0006],[1.06,-0.0016],[1.08,0.0004],[1.10,-0.0004],[1.12,0.0012],
  [1.14,0.0024],[1.16,0.0014],[1.18,0.0028],[1.20,0.0020],[1.22,0.0010],[1.24,0.0033],[1.26,0.0024],[1.28,0.0016],[1.30,0.0036],
  [1.32,0.0028],[1.34,0.0040],[1.36,0.0020],[1.38,0.0032],[1.40,0.0024],[1.42,0.0036],[1.44,0.0030],[1.46,0.0018],[1.48,0.0034],[1.50,0.0026],[1.52,0.0039],[1.54,0.0022],[1.56,0.0031],[1.57,0.0010],[1.58,0.0006],
  [1.60,0.0035],[1.62,0.0028],[1.64,0.0042],[1.66,0.0020],[1.68,0.0033],[1.70,0.0026],[1.72,0.0038],[1.74,0.0016],[1.76,0.0030],[1.78,0.0024],[1.80,0.0036],
  [1.82,0.0020],[1.84,0.0028],[1.86,0.0012],[1.88,0.0022],[1.90,0.0030],[1.92,0.0004],[1.94,0.0016],
  [1.97,-0.0002],[1.99,0.0008],[2.01,-0.0012],[2.03,-0.0004],[2.05,-0.0022],[2.07,-0.0016],[2.09,-0.0028],[2.11,-0.0034],
  [2.14,-0.0040],[2.16,-0.0030],[2.18,-0.0046],[2.20,-0.0036],[2.22,-0.0050],[2.24,-0.0042],[2.26,-0.0054],[2.28,-0.0044],[2.30,-0.0036],[2.32,-0.0048],[2.34,-0.0038],[2.36,-0.0052],[2.38,-0.0030],[2.40,-0.0042],[2.43,-0.0024],[2.45,-0.0034],
  [2.48,-0.0016],[2.50,-0.0006],[2.52,-0.0022],[2.54,0.0000],[2.56,-0.0012],[2.58,0.0006],[2.60,-0.0004],[2.62,-0.0018],[2.64,-0.0008],[2.66,0.0002],[2.68,-0.0014],[2.70,-0.0026],[2.72,-0.0006],[2.74,-0.0020],
  [2.76,-0.0010],[2.78,-0.0024],[2.80,-0.0016],[2.82,-0.0030],[2.84,-0.0008],[2.86,-0.0020],[2.88,-0.0004],[2.90,0.0004],
  [2.93,0.0010],[2.95,0.0018],[2.97,0.0026],[2.99,0.0032],[3.01,0.0038],[3.02,0.0044],[3.03,0.0050],[3.04,0.0055],[3.05,0.0046],
  [0.09,0.0047],[0.10,0.0052],[0.10,0.0040],[0.11,0.0035],[0.11,0.0046],[0.12,0.0030],[0.12,0.0040],[0.13,0.0024],[0.13,0.0034],[0.14,0.0018],[0.14,0.0028],[0.15,0.0012],[0.15,0.0024],[0.16,0.0006],[0.16,0.0018],[0.17,-0.0002],[0.17,0.0010],[0.18,0.0004],[0.18,-0.0008],
  [0.19,-0.0012],[0.20,0.0000],[0.20,-0.0016],[0.21,-0.0006],[0.22,-0.0020],[0.23,-0.0014],[0.24,-0.0008],[0.24,-0.0024],[0.25,-0.0012],[0.26,-0.0016],[0.27,-0.0020],[0.28,-0.0012],[0.28,-0.0028],[0.29,-0.0016],[0.30,-0.0024],[0.31,-0.0014],[0.32,-0.0020],[0.33,-0.0012],[0.34,-0.0022],[0.35,-0.0016],[0.36,-0.0010],[0.37,-0.0024],[0.38,-0.0004],[0.39,-0.0018],[0.40,-0.0010],[0.41,-0.0002],[0.42,-0.0014],[0.43,0.0000],[0.44,-0.0006],[0.45,-0.0012],[0.46,0.0004],[0.47,-0.0010],[0.48,-0.0006],[0.49,-0.0002],[0.50,-0.0004],[0.51,-0.0016],[0.52,-0.0002],[0.53,-0.0012],[0.54,0.0000],[0.55,-0.0006],[0.56,-0.0020],[0.57,-0.0010],[0.58,-0.0016],[0.59,-0.0008],
  [0.61,-0.0016],[0.62,-0.0024],[0.64,-0.0022],[0.66,-0.0028],[0.68,-0.0034],[0.70,-0.0030],[0.72,-0.0036],[0.74,-0.0040],[0.76,-0.0034],[0.78,-0.0044],[0.80,-0.0046],[0.82,-0.0038],[0.84,-0.0048],[0.86,-0.0036],[0.88,-0.0044],[0.90,-0.0046],[0.92,-0.0040],[0.94,-0.0036],[0.96,-0.0042],[0.98,-0.0030],[1.00,-0.0026],[1.02,-0.0020],[1.04,-0.0018],[1.06,-0.0008],[1.08,-0.0010],[1.10,0.0002],[1.11,0.0008],[1.13,0.0004],
  [1.15,0.0018],[1.17,0.0022],[1.19,0.0012],[1.21,0.0026],[1.23,0.0022],[1.25,0.0030],[1.27,0.0028],[1.29,0.0024],[1.31,0.0030],[1.33,0.0034],[1.35,0.0028],[1.37,0.0036],[1.39,0.0030],[1.41,0.0028],[1.43,0.0032],[1.45,0.0024],[1.47,0.0038],[1.49,0.0030],[1.51,0.0022],[1.53,0.0030],[1.55,0.0034],[1.57,0.0028],
  [1.59,0.0024],[1.61,0.0032],[1.63,0.0020],[1.65,0.0036],[1.67,0.0028],[1.69,0.0032],[1.71,0.0022],[1.73,0.0030],[1.75,0.0036],[1.77,0.0028],[1.79,0.0026],[1.81,0.0030],[1.83,0.0024],[1.85,0.0026],[1.87,0.0018],[1.89,0.0014],[1.91,0.0020],[1.93,0.0010],[1.95,0.0022],[1.96,0.0006],
  [1.98,-0.0006],[2.00,0.0000],[2.02,-0.0018],[2.04,-0.0012],[2.06,-0.0026],[2.08,-0.0022],[2.10,-0.0030],[2.12,-0.0026],[2.13,-0.0036],[2.15,-0.0034],[2.17,-0.0040],[2.19,-0.0042],[2.21,-0.0038],[2.23,-0.0046],[2.25,-0.0044],[2.27,-0.0048],[2.29,-0.0040],[2.31,-0.0044],[2.33,-0.0032],[2.35,-0.0040],[2.37,-0.0034],[2.39,-0.0026],[2.41,-0.0030],[2.44,-0.0020],[2.46,-0.0026],[2.47,-0.0022],
  [2.49,-0.0010],[2.51,-0.0016],[2.53,-0.0010],[2.55,-0.0006],[2.57,-0.0002],[2.59,-0.0010],[2.61,-0.0008],[2.63,0.0000],[2.65,-0.0012],[2.67,-0.0006],[2.69,-0.0018],[2.71,-0.0010],[2.73,-0.0014],[2.75,-0.0018],[2.77,-0.0022],[2.79,-0.0012],[2.81,-0.0020],[2.83,-0.0014],[2.85,-0.0010],[2.87,-0.0012],[2.89,-0.0002],[2.91,0.0000],[2.92,-0.0008],
  [2.94,0.0012],[2.96,0.0020],[2.98,0.0024],[3.00,0.0030],[3.01,0.0034],[3.02,0.0040],[3.03,0.0043],[3.04,0.0048],[3.05,0.0050]];

const data250_1 = [[0.09,0.0035],[0.10,0.0030],[0.11,0.0026],[0.12,0.0032],[0.13,0.0022],[0.14,0.0028],[0.15,0.0018],[0.16,0.0024],[0.17,0.0012],[0.18,0.0020],[0.19,0.0008],[0.20,0.0015],
  [0.22,0.0010],[0.23,0.0022],[0.24,0.0004],[0.26,0.0014],[0.27,-0.0002],[0.28,0.0008],[0.30,-0.0006],[0.31,0.0002],[0.33,-0.0010],[0.35,-0.0004],[0.37,-0.0016],[0.38,0.0000],[0.40,-0.0008],[0.42,-0.0020],
  [0.44,-0.0014],[0.46,-0.0026],[0.48,-0.0004],[0.50,-0.0018],[0.52,-0.0030],[0.54,-0.0022],[0.56,-0.0012],[0.58,-0.0034],[0.60,-0.0026],[0.62,-0.0016],[0.64,-0.0038],[0.66,-0.0030],[0.68,-0.0020],[0.70,-0.0042],[0.72,-0.0028],[0.74,-0.0036],[0.76,-0.0024],[0.78,-0.0032],[0.80,-0.0045],[0.82,-0.0020],[0.84,-0.0030],[0.86,-0.0038],[0.88,-0.0026],
  [0.90,-0.0016],[0.92,-0.0030],[0.94,-0.0012],[0.96,-0.0022],[0.98,-0.0008],[1.00,-0.0018],[1.02,-0.0004],[1.04,-0.0012],
  [1.06,0.0004],[1.08,-0.0006],[1.10,0.0010],[1.12,0.0000],[1.14,0.0016],[1.16,0.0006],[1.18,0.0022],[1.20,0.0012],[1.22,-0.0004],[1.24,0.0026],
  [1.27,0.0018],[1.29,0.0030],[1.31,0.0010],[1.33,0.0024],[1.35,0.0034],[1.37,0.0016],[1.39,0.0028],[1.41,0.0036],[1.43,0.0020],[1.45,0.0030],[1.47,0.0014],[1.49,0.0026],[1.51,0.0033],[1.53,0.0018],[1.55,0.0036],[1.57,0.0024],
  [1.59,0.0030],[1.61,0.0016],[1.63,0.0034],[1.65,0.0022],[1.67,0.0028],[1.69,0.0012],[1.71,0.0025],[1.73,0.0032],[1.75,0.0018],[1.77,0.0008],[1.79,0.0022],[1.81,0.0014],
  [1.83,0.0004],[1.85,0.0016],[1.87,-0.0002],[1.89,0.0010],[1.91,-0.0008],[1.93,0.0002],[1.95,-0.0014],[1.97,-0.0004],[1.99,-0.0020],[2.01,-0.0010],[2.03,-0.0024],[2.05,-0.0016],
  [2.07,-0.0030],[2.09,-0.0022],[2.11,-0.0038],[2.13,-0.0028],[2.15,-0.0018],[2.17,-0.0034],[2.19,-0.0026],[2.21,-0.0044],[2.23,-0.0030],[2.25,-0.0022],[2.27,-0.0036],[2.29,-0.0028],[2.31,-0.0046],[2.33,-0.0032],[2.35,-0.0024],[2.37,-0.0038],[2.39,-0.0018],[2.41,-0.0030],
  [2.43,-0.0010],[2.45,-0.0024],[2.47,-0.0016],[2.49,-0.0004],[2.51,-0.0020],[2.53,-0.0012],[2.55,0.0002],[2.57,-0.0008],[2.59,0.0004],
  [2.61,-0.0002],[2.63,0.0012],[2.65,0.0004],[2.67,0.0018],[2.69,0.0008],[2.71,0.0022],[2.73,0.0012],[2.75,0.0026],[2.77,0.0016],[2.79,0.0006],[2.81,0.0020],
  [2.83,0.0028],[2.85,0.0014],[2.87,0.0024],[2.89,0.0032],[2.91,0.0018],[2.93,0.0030],[2.95,0.0036],[2.97,0.0024],[2.99,0.0034],[3.01,0.0040],[3.02,0.0028],[3.03,0.0036],[3.04,0.0046],[3.05,0.0032],
  [0.09,0.0028],[0.10,0.0026],[0.11,0.0030],[0.12,0.0022],[0.13,0.0026],[0.14,0.0020],[0.15,0.0024],[0.16,0.0016],[0.17,0.0020],[0.18,0.0014],[0.19,0.0018],[0.20,0.0010],[0.21,0.0016],
  [0.22,0.0006],[0.23,0.0012],[0.25,0.0008],[0.26,0.0002],[0.27,0.0010],[0.28,-0.0004],[0.29,0.0004],[0.30,0.0000],[0.31,-0.0008],[0.32,0.0004],[0.33,-0.0002],[0.34,-0.0012],[0.36,-0.0006],[0.37,-0.0002],[0.39,-0.0012],[0.40,-0.0018],[0.41,-0.0004],[0.43,-0.0010],
  [0.45,-0.0018],[0.47,-0.0010],[0.49,-0.0022],[0.51,-0.0012],[0.53,-0.0020],[0.55,-0.0026],[0.57,-0.0018],[0.59,-0.0022],[0.61,-0.0030],[0.63,-0.0024],[0.65,-0.0020],[0.67,-0.0026],[0.69,-0.0032],[0.71,-0.0022],[0.73,-0.0030],[0.75,-0.0028],[0.77,-0.0034],[0.79,-0.0026],[0.81,-0.0030],[0.83,-0.0036],[0.85,-0.0024],[0.87,-0.0030],[0.89,-0.0020],
  [0.91,-0.0024],[0.93,-0.0018],[0.95,-0.0028],[0.97,-0.0014],[0.99,-0.0020],[1.01,-0.0012],[1.03,-0.0018],[1.05,-0.0008],[1.07,-0.0002],[1.09,-0.0010],[1.11,0.0004],[1.13,-0.0004],[1.15,0.0010],[1.17,0.0002],[1.19,0.0014],[1.21,0.0006],[1.23,0.0016],
  [1.25,0.0012],[1.26,0.0020],[1.28,0.0014],[1.30,0.0022],[1.32,0.0016],[1.34,0.0026],[1.36,0.0020],[1.38,0.0024],[1.40,0.0030],[1.42,0.0022],[1.44,0.0026],[1.46,0.0032],[1.48,0.0020],[1.50,0.0028],[1.52,0.0024],[1.54,0.0030],[1.56,0.0020],[1.58,0.0028],
  [1.60,0.0022],[1.62,0.0026],[1.64,0.0018],[1.66,0.0030],[1.68,0.0020],[1.70,0.0024],[1.72,0.0016],[1.74,0.0022],[1.76,0.0012],[1.78,0.0018],[1.80,0.0008],[1.82,0.0020],[1.84,0.0010],[1.86,0.0002],[1.88,0.0006],[1.90,0.0000],[1.92,-0.0004],[1.94,0.0004],[1.96,-0.0010],[1.98,-0.0012],[2.00,-0.0006],[2.02,-0.0016],[2.04,-0.0020],
  [2.06,-0.0024],[2.08,-0.0016],[2.10,-0.0030],[2.12,-0.0020],[2.14,-0.0024],[2.16,-0.0030],[2.18,-0.0020],[2.20,-0.0032],[2.22,-0.0024],[2.24,-0.0030],[2.26,-0.0034],[2.28,-0.0022],[2.30,-0.0030],[2.32,-0.0026],[2.34,-0.0036],[2.36,-0.0020],[2.38,-0.0028],[2.40,-0.0024],[2.42,-0.0018],
  [2.44,-0.0020],[2.46,-0.0012],[2.48,-0.0018],[2.50,-0.0010],[2.52,-0.0016],[2.54,-0.0006],[2.56,-0.0012],[2.58,-0.0002],[2.60,-0.0008],[2.62,0.0004],[2.64,-0.0004],[2.66,0.0008],[2.68,0.0002],[2.70,0.0012],[2.72,0.0006],[2.74,0.0016],[2.76,0.0010],[2.78,0.0018],[2.80,0.0012],[2.82,0.0022],[2.84,0.0016],[2.86,0.0020],
  [2.88,0.0024],[2.90,0.0022],[2.92,0.0026],[2.94,0.0024],[2.96,0.0030],[2.98,0.0026],[3.00,0.0032],[3.01,0.0030],[3.03,0.0030],[3.05,0.0026]];

// panel labels and axes
const panelN = ["100", "100", "150", "150", "250", "250"];
const panelK = ["0", "1", "0", "1", "0", "1"];
const yLimits = [[-0.2598, 0.3866], [-0.2347, 0.332], [-0.1037, 0.0928], [-0.0941, 0.0851], [-0.00595, 0.005924], [-0.00506, 0.004836]];
const yTicks = [[-0.25, 0, 0.25], [-0.2, 0, 0.2], [-0.1, 0], [-0.05, 0, 0.05], [-0.005, 0, 0.005], [-0.005, 0]];
const yFormats = [".2f", ".1f", ".1f", ".2f", ".3f", ".3f"];
const xLimits = [-0.051, 3.189];
const xTicks = [0, Math.PI / 2, Math.PI];
const xTickLabels = ["0", "π/2", "π"];
const legendLabels = ["Data", "Filtered", "Truth"];

const scatterSets = [data100_0, data100_1, data150_0, data150_1, data250_0, data250_1];
const truthSets = [truth100_0, truth100_1, truth150_0, truth150_1, truth250_0, truth250_1];
const filteredSets = [filtered100_0, filtered100_1, filtered150_0, filtered150_1, filtered250_0, filtered250_1];

/**
 * LAYOUT
 * */
const width = 1266, height = 1064;
const colLeft = [144, 789.7], axW = 461.7;
const rowTop = [49, 369, 688.3], axH = 265.5;
const tickFont = 33, titleFont = 34, legendFont = 35;
const cyan = "#00bfbf";

const svg = d3.select("#chart").append("svg")
  .attr("width", width)
  .attr("height", height);

svg.append("rect").attr("width", width).attr("height", height).attr("fill", "#fff");

const line = d3.line().curve(d3.curveCatmullRom.alpha(0.5));

scatterSets.forEach((pts, p) => {
  const r = Math.floor(p / 2), c = p % 2;
  const left = colLeft[c], top = rowTop[r];

  const x = d3.scaleLinear().domain(xLimits).range([left, left + axW]);
  const y = d3.scaleLinear().domain(yLimits[p]).range([top + axH, top]);

  const g = svg.append("g").attr("class", "panel");

  g.append("clipPath").attr("id", "clip" + p)
    .append("rect").attr("x", left).attr("y", top).attr("width", axW).attr("height", axH);

  const plot = g.append("g").attr("clip-path", `url(#clip${p})`);

  plot.selectAll("circle")
    .data(pts)
    .join("circle")
    .attr("cx", d => x(d[0]))
    .attr("cy", d => y(d[1]))
    .attr("r", 2.9)
    .attr("fill", cyan);

  plot.append("path")
    .attr("d", line(xGrid.map((xv, i) => [x(xv), y(filteredSets[p][i])])))
    .attr("fill", "none")
    .attr("stroke", "#000")
    .attr("stroke-width", 6.8)
    .attr("stroke-linecap", "square");

  plot.append("path")
    .attr("d", line(xGrid.map((xv, i) => [x(xv), y(truthSets[p][i])])))
    .attr("fill", "none")
    .attr("stroke", "#ff0000")
    .attr("stroke-width", 6.8)
    .attr("stroke-dasharray", "24,9");

  // axes
  const yAxis = g.append("g")
    .attr("transform", `translate(${left},0)`)
    .call(d3.axisLeft(y).tickValues(yTicks[p]).tickFormat(d3.format(yFormats[p])).tickSize(5).tickPadding(5));
  const xAxis = g.append("g")
    .attr("transform", `translate(0,${top + axH})`)
    .call(d3.axisBottom(x).tickValues(xTicks).tickSize(5).tickPadding(6)
      .tickFormat((d, i) => (r === 2 ? xTickLabels[i] : "")));

  [yAxis, xAxis].forEach(a => {
    a.select(".domain").remove();
    a.selectAll(".tick line").attr("stroke", "#333").attr("stroke-width", 1.1);
    a.selectAll(".tick text").attr("fill", "#000").style("font-size", tickFont + "px")
      .style("font-family", "'DejaVu Sans', sans-serif");
  });
  xAxis.selectAll(".tick text").each(function (d, i) {
    if (r !== 2) return;
    const t = d3.select(this);
    const label = xTickLabels[i];
    if (label.indexOf("π") < 0) return;
    t.text(null);
    t.append("tspan").style("font-style", "italic").text("π");
    if (label.length > 1) t.append("tspan").text(label.slice(1));
  });

  g.append("rect")
    .attr("x", left).attr("y", top).attr("width", axW).attr("height", axH)
    .attr("fill", "none").attr("stroke", "#333").attr("stroke-width", 1.1);

  // title  C~(n, n, ., k)
  const baseline = top - 8.5;
  const title = g.append("text")
    .attr("x", left + axW / 2 - 3)
    .attr("y", baseline)
    .attr("text-anchor", "middle")
    .style("font-size", titleFont + "px");
  title.append("tspan")
    .style("font-family", "'Liberation Serif', serif")
    .style("font-style", "italic")
    .style("font-size", (titleFont * 1.05) + "px")
    .text("C");
  title.append("tspan")
    .text(`(${panelN[p]}, ${panelN[p]}, \u00b7 ,\u2009${panelK[p]})`);
  // tilde accent over the C
  const ext = title.node().getExtentOfChar(0);
  const tx = ext.x + ext.width / 2 + 3, ty = baseline - 26;
  g.append("path")
    .attr("d", `M${tx - 6},${ty + 1.5} C${tx - 4},${ty - 2.5} ${tx - 1.5},${ty - 1} ${tx},${ty} S${tx + 4},${ty + 2.5} ${tx + 6},${ty - 1.5}`)
    .attr("fill", "none")
    .attr("stroke", "#000")
    .attr("stroke-width", 1.7);
});

/**
 * LEGEND
 * */
const legend = svg.append("g").attr("class", "legend");
legend.append("rect")
  .attr("x", 312).attr("y", 1005).attr("width", 818).attr("height", 57).attr("rx", 5)
  .attr("fill", "#fff").attr("fill-opacity", 0.8)
  .attr("stroke", "#d0d0d0").attr("stroke-width", 1);

const legendX = [327, 594, 908];
legendLabels.forEach((lab, i) => {
  legend.append("text")
    .attr("x", legendX[i]).attr("y", 1045)
    .style("font-size", legendFont + "px")
    .text(lab);
});
legend.append("circle").attr("cx", 481).attr("cy", 1032).attr("r", 8).attr("fill", cyan);
legend.append("line").attr("x1", 749).attr("x2", 843).attr("y1", 1032).attr("y2", 1032)
  .attr("stroke", "#000").attr("stroke-width", 6.8);
legend.append("line").attr("x1", 1031).attr("x2", 1118).attr("y1", 1032).attr("y2", 1032)
  .attr("stroke", "#ff0000").attr("stroke-width", 6.8).attr("stroke-dasharray", "24,8");
</script>
</body>
</html>
